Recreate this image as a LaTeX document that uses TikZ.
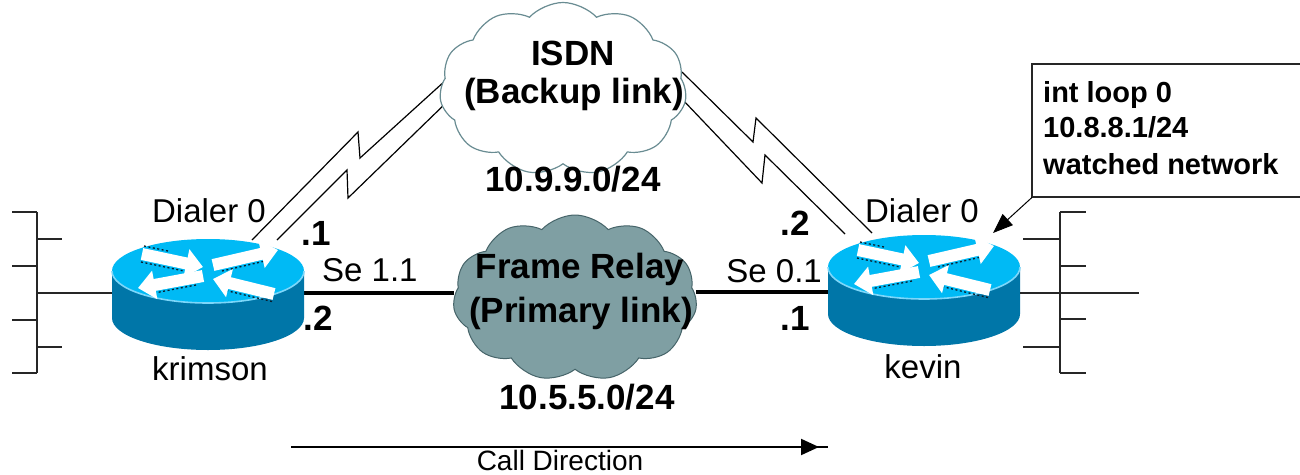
\documentclass[tikz,border=0pt]{standalone}
\usepackage{fontspec}
\setmainfont{Liberation Sans}
\usetikzlibrary{shapes.symbols,arrows.meta,calc}
\definecolor{rtop}{RGB}{0,186,245}
\definecolor{rside}{RGB}{0,118,168}
\definecolor{rrim}{RGB}{125,215,250}
\definecolor{rshadow}{RGB}{10,30,45}
\definecolor{frfill}{RGB}{127,159,163}
\definecolor{frline}{RGB}{70,100,105}
\definecolor{isdnline}{RGB}{105,140,146}
\tikzset{
  rarrow/.style={white, line width=12pt, -{Triangle[width=28pt,length=17pt]}},
  rdots/.style={rshadow, line width=1.3pt, dash pattern=on 2pt off 2.5pt},
  router/.pic={
    \fill[rside] (-96,0) -- (-96,47) arc[start angle=180,end angle=0,x radius=96,y radius=32] -- (96,0) -- cycle;
    \fill[rtop] (0,0) ellipse[x radius=96,y radius=32];
    \draw[rrim, line width=1.6pt] (-96,0) arc[start angle=180,end angle=0,x radius=96,y radius=32];
    \draw[rarrow] (-66,-17) -- (-5,-4);
    \draw[rarrow] (5,-6) -- (70,-21);
    \draw[rarrow] (-5,5) -- (-70,17);
    \draw[rarrow] (66,23) -- (5,8);
    \draw[rdots] (-67,-9) -- (-24,0);
    \draw[rdots] (-64,-25) -- (-40,-20);
    \draw[rdots] (14,0) -- (55,-9.5);
    \draw[rdots] (-12,14) -- (-51,21.5);
    \draw[rdots] (64,30.5) -- (20,20);
  }
}
\begin{document}
\begin{tikzpicture}[x=1pt,y=-1pt,
  lbl/.style={font=\fontsize{33}{36}\selectfont, inner sep=0, anchor=base},
  smalllbl/.style={font=\fontsize{28}{32}\selectfont, inner sep=0, anchor=base},
  blbl/.style={font=\fontsize{35}{40}\selectfont\bfseries, inner sep=0, anchor=base},
  boxtext/.style={font=\fontsize{29}{34}\selectfont\bfseries, inner sep=0, anchor=base west},
  bus/.style={line width=2pt, draw=black!85},
  serial/.style={line width=1.2pt, draw=black},
  frlink/.style={line width=4.5pt, draw=black},
  routerbody/.style={rectangle, inner sep=0, minimum width=192pt, minimum height=112pt},
  netcloud/.style={cloud, cloud puffs=11, cloud puff arc=95, cloud ignores aspect, inner sep=0}
]
\useasboundingbox (0,0) rectangle (1300,474);
\fill[white] (0,0) rectangle (1300,474);

% router anchors
\node[routerbody] (krimson) at (208,294) {};
\node[routerbody] (kevin) at (924,290) {};

% ISDN serial links (lightning)
\coordinate (la0) at (252,240); \coordinate (la1) at (358,132);
\coordinate (la2) at (360,158); \coordinate (la3) at (446,80);
\coordinate (lb0) at (277,240); \coordinate (lb1) at (347,170);
\coordinate (lb2) at (348,198); \coordinate (lb3) at (448,101);
\coordinate (ra0) at (682,72);  \coordinate (ra1) at (753,142);
\coordinate (ra2) at (756,118); \coordinate (ra3) at (872,233);
\coordinate (rb0) at (682,99); \coordinate (rb1) at (762,183);
\coordinate (rb2) at (765,155); \coordinate (rb3) at (845,234);
\draw[serial] (la0) -- (la1) -- (la2) -- (la3);
\draw[serial] (lb0) -- (lb1) -- (lb2) -- (lb3);
\draw[serial] (ra0) -- (ra1) -- (ra2) -- (ra3);
\draw[serial] (rb0) -- (rb1) -- (rb2) -- (rb3);

% clouds
\node[netcloud, draw=isdnline, line width=1.2pt, fill=white, minimum width=247pt, minimum height=173pt] (isdn) at (563,89) {};
\node[netcloud, draw=frline, line width=1pt, fill=frfill, minimum width=244pt, minimum height=166pt] (fr) at (575,298) {};

% frame relay links
\draw[frlink] (krimson.east |- 0,293) -- (fr.west |- 0,293);
\draw[frlink] (fr.east |- 0,292) -- (kevin.west |- 0,292);

% routers
\pic at (208,271) {router};
\pic at (924,267) {router};

% LAN buses
\coordinate (lbt) at (37,212); \coordinate (lbb) at (37,373);
\draw[bus] (lbt) -- (lbb);
\draw[bus] (12,212) -- (lbt);
\draw[bus] (37,239) -- (62,239);
\draw[bus] (12,266) -- (37,266);
\draw[bus] (37,293) -- (krimson.west |- 0,293);
\draw[bus] (12,320) -- (37,320);
\draw[bus] (37,347) -- (62,347);
\draw[bus] (12,373) -- (lbb);

\coordinate (rbt) at (1060,212); \coordinate (rbb) at (1060,373);
\draw[bus] (rbt) -- (rbb);
\draw[bus] (rbt) -- (1086,212);
\draw[bus] (1023,239) -- (1060,239);
\draw[bus] (1060,266) -- (1086,266);
\draw[bus] (kevin.east |- 0,293) -- (1139,293);
\draw[bus] (1060,319) -- (1086,319);
\draw[bus] (1023,347) -- (1060,347);
\draw[bus] (rbb) -- (1086,373);

% cloud texts
\node[blbl] (isdnt) at (573,65) {ISDN};
\node[blbl] (isdnb) at (574,103) {(Backup link)};
\node[blbl] (isdnnet) at (573,191) {10.9.9.0/24};
\node[blbl] (frt) at (580,278) {Frame Relay};
\node[blbl] (frb) at (581,322) {(Primary link)};
\node[blbl] (frnet) at (587,409) {10.5.5.0/24};

% interface labels
\node[lbl] (dialL) at (209,222) {Dialer 0};
\node[lbl] (dialR) at (922,222) {Dialer 0};
\node[blbl] (dotoneL) at (316,245) {.1};
\node[lbl, anchor=base west] (seL) at (322,281) {Se 1.1};
\node[blbl] (dottwoL) at (318,330) {.2};
\node[blbl] (dottwoR) at (795,235) {.2};
\node[lbl, anchor=base east] (seR) at (822,282) {Se 0.1};
\node[blbl] (dotoneR) at (795,330) {.1};
\node[lbl] (krimsonlbl) at (210,380) {krimson};
\node[lbl] (kevinlbl) at (923,378) {kevin};

% annotation box
\node[inner sep=0, minimum width=268pt, minimum height=133pt, anchor=north west] (note) at (1032,64) {};
\draw[line width=2pt, draw=black!85] (note.north east) -- (note.north west) -- (note.south west) -- (note.south east);
\node[boxtext] (n1) at (1043,102) {int loop 0};
\node[boxtext] (n2) at (1043,137) {10.8.8.1/24};
\node[boxtext] (n3) at (1043,174) {watched network};
\coordinate (kevtip) at (993,233);
\draw[line width=1pt, -{Triangle[length=20pt,width=15pt]}] (note.south west) -- (kevtip);

% call direction
\coordinate (cdA) at (291,447);
\coordinate (cdB) at (828,447);
\draw[line width=2pt] (cdA) -- (cdB);
\draw[line width=2pt, -{Triangle[length=18pt,width=16pt]}] (cdA) -- ([xshift=-9pt]cdB);
\node[smalllbl] (calldir) at (560,470) {Call Direction};
\end{tikzpicture}
\end{document}
